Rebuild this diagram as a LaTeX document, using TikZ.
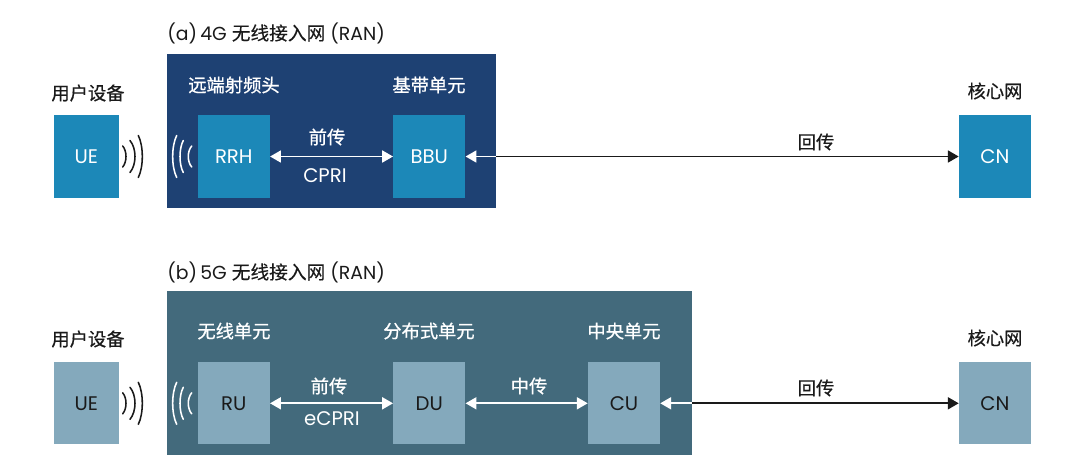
\documentclass[tikz,border=0pt]{standalone}
\usepackage{fontspec}
\setmainfont{Poppins}
\newfontfamily\cjk[FakeBold=0.7]{Noto Sans CJK SC}
\newfontfamily\cjklight[FakeBold=0.2]{Noto Sans CJK SC}
\usetikzlibrary{arrows.meta,positioning}
\definecolor{navy}{HTML}{1E4173}
\definecolor{sky}{HTML}{1C88B8}
\definecolor{slate}{HTML}{436A7C}
\definecolor{haze}{HTML}{84A9BC}
\definecolor{ink}{HTML}{1A1A1A}

\begin{document}
\begin{tikzpicture}[x=.025cm,y=-.025cm,
unit/.style={minimum width=1.8cm,minimum height=2.05cm,inner sep=0pt,font=\fontsize{14}{16}\selectfont},
unitA/.style={unit,fill=sky,text=white},
unitB/.style={unit,fill=haze,text=ink},
small/.style={minimum width=1.61cm},
caption/.style={inner sep=0pt,text=ink,font=\cjk\fontsize{13}{15}\selectfont},
captionW/.style={caption,text=white},
tag/.style={inner sep=0pt,text=white,font=\fontsize{14}{16}\selectfont},
heading/.style={anchor=west,inner sep=0pt,text=ink,font=\fontsize{13.4}{16}\selectfont},
linkW/.style={line width=1.15pt,white,{Triangle[length=2.7mm,width=3mm]}-{Triangle[length=2.7mm,width=3mm]}},
linkIn/.style={line width=1.15pt,white,-{Triangle[length=2.7mm,width=3mm]}},
linkK/.style={line width=1.15pt,ink,-{Triangle[length=2.7mm,width=3mm]}},
wave/.style={line width=1.1pt,line cap=round}]
\useasboundingbox (0,0) rectangle (1080,469);

% 4G
\node[heading] (title4) at (167,33){(a)\,4G {\cjklight\fontsize{13.3}{16}\selectfont 无线接入网} (RAN)};
\fill[navy] (167,53.5) rectangle (496,208);
\coordinate (edge4) at (496,156.5);

\node[unitA,small] (ue4) at (86.3,156.5){UE};
\node[unitA] (rrh) at (233.8,156.5){RRH};
\node[unitA] (bbu) at (429.3,156.5){BBU};
\node[unitA] (cn4) at (995,156.5){CN};

\node[caption] (user4) at (88,93){用户设备};
\node[captionW] (rrhname) at (234,85){远端射频头};
\node[captionW] (bbuname) at (429,85){基带单元};
\node[caption] (core4) at (995,91){核心网};

\draw[linkW] (rrh)--(bbu);
\draw[linkIn] (edge4)--(bbu);
\draw[linkK] (edge4)--(cn4);

\node[captionW] (front4) at (327,137){前传};
\node[tag] (cpri) at (325,176){CPRI};
\node[caption] (back4) at (816,142){回传};

% 5G
\node[heading] (title5) at (167,272){(b)\,5G {\cjklight\fontsize{13.3}{16}\selectfont 无线接入网} (RAN)};
\fill[slate] (167,290.5) rectangle (692,454.5);
\coordinate (edge5) at (692,403.3);

\node[unitB,small] (ue5) at (86.3,403.3){UE};
\node[unitB] (ru) at (233.8,403.3){RU};
\node[unitB] (du) at (429.3,403.3){DU};
\node[unitB] (cu) at (624,403.3){CU};
\node[unitB] (cn5) at (995,403.3){CN};

\node[caption] (user5) at (88,339){用户设备};
\node[captionW] (runame) at (234,331){无线单元};
\node[captionW] (duname) at (429,331){分布式单元};
\node[captionW] (cuname) at (624,331){中央单元};
\node[caption] (core5) at (995,338){核心网};

\draw[linkW] (ru)--(du);
\draw[linkW] (du)--(cu);
\draw[linkIn] (edge5)--(cu);
\draw[linkK] (edge5)--(cn5);

\node[captionW] (front5) at (329,386){前传};
\node[tag] (ecpri) at (332,419){eCPRI};
\node[captionW] (mid5) at (529,386){中传};
\node[caption] (back5) at (816,388){回传};

% radio waves
\foreach \cy in {156.5,403.3}{
  \foreach \tip/\bulge/\h in {122.7/126/10.5,130/135/16,138.3/142.3/21}
    \draw[wave,ink] (\tip,\cy-\h) .. controls ({\tip+4/3*(\bulge-\tip)},\cy-\h/2) and ({\tip+4/3*(\bulge-\tip)},\cy+\h/2) .. (\tip,\cy+\h);
  \foreach \tip/\bulge/\h in {191.7/188.3/10.5,183.3/180/16,176.7/172.7/21}
    \draw[wave,white] (\tip,\cy-\h) .. controls ({\tip+4/3*(\bulge-\tip)},\cy-\h/2) and ({\tip+4/3*(\bulge-\tip)},\cy+\h/2) .. (\tip,\cy+\h);
}
\end{tikzpicture}
\end{document}
